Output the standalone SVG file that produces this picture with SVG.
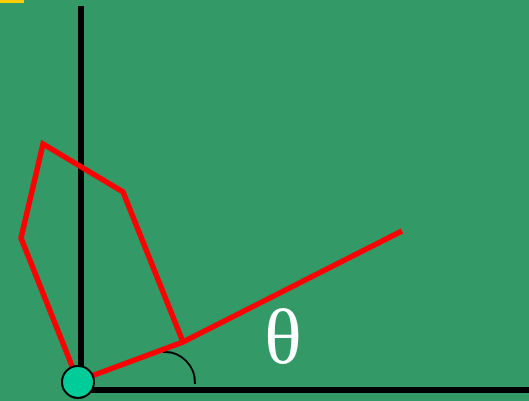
<svg xmlns="http://www.w3.org/2000/svg" width="529" height="401" viewBox="0 0 529 401">
<style>
.axis{stroke:#000;stroke-width:6;fill:none}
.arm{stroke:#ff0000;stroke-width:5.5;fill:none;stroke-linecap:butt;stroke-linejoin:miter}
.arc{stroke:#000;stroke-width:2;fill:none}
.lbl{font-family:"Liberation Serif","Times New Roman",serif;fill:#fff;font-size:78px}
</style>
<rect x="0" y="0" width="529" height="401" fill="#339966"/>
<rect x="0" y="0" width="24" height="3" fill="#ffcc00"/>
<g id="connectors">
<line class="axis" x1="81" y1="6" x2="81" y2="390"/>
<line class="axis" x1="81" y1="390" x2="529" y2="390"/>
<path class="arc" d="M163,352 A30,31 0 0 1 195,384"/>
<polyline class="arm" points="78,381 21,238 43,144 123,192 183,342"/>
<polyline class="arm" points="78,381 183,342 402,231"/>
</g>
<g id="pivot">
<circle cx="78" cy="382" r="16" fill="#00cc99" stroke="#000" stroke-width="2"/>
</g>
<g id="theta">
<text class="lbl" x="283" y="363" text-anchor="middle">θ</text>
</g>
</svg>
